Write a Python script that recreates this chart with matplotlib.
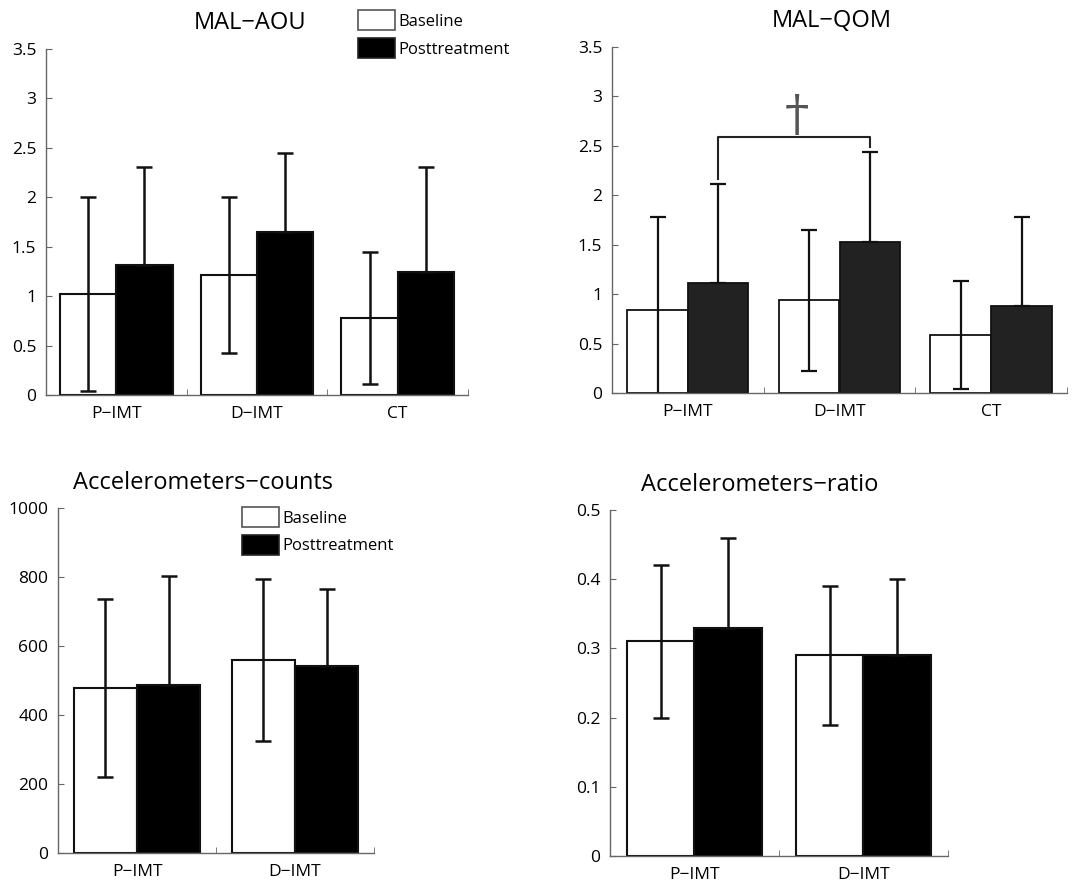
import numpy as np
import matplotlib
matplotlib.use("Agg")
import matplotlib.pyplot as plt
from matplotlib.patches import Patch

plt.rcParams['font.family'] = ['Open Sans', 'DejaVu Sans']

cats3 = ['P\u2212IMT', 'D\u2212IMT', 'CT']
cats2 = ['P\u2212IMT', 'D\u2212IMT']

# MAL-AOU
aou_base = [1.02, 1.21, 0.78]
aou_base_err = [0.98, 0.79, 0.67]
aou_post = [1.32, 1.645, 1.24]
aou_post_err = [0.99, 0.805, 1.07]

# MAL-QOM
qom_base = [0.835, 0.936, 0.589]
qom_base_err = [0.945, 0.71, 0.545]
qom_post = [1.117, 1.528, 0.882]
qom_post_err = [0.993, 0.909, 0.898]
bracket_y = 2.59
bracket_legs = [2.16, 2.49]

# Accelerometers
counts_base = [477, 559]
counts_base_err = [258, 234]
counts_post = [487, 543]
counts_post_err = [316, 222]

ratio_base = [0.31, 0.29]
ratio_base_err = [0.11, 0.10]
ratio_post = [0.33, 0.29]
ratio_post_err = [0.13, 0.11]

W, H = 1072, 881
fig = plt.figure(figsize=(W / 100, H / 100), dpi=100)


def px_axes(l, t, r, b):
    return fig.add_axes([l / W, 1 - b / H, (r - l) / W, (b - t) / H])


def draw(ax, cats, base, base_err, post, post_err, ymax, yticks, dark, lw=1.5):
    x = np.arange(1, len(cats) + 1)
    ek = dict(ecolor='#111111', elinewidth=lw + 0.3, capsize=6, capthick=lw + 0.3)
    ax.bar(x - 0.2, base, 0.4, color='white', edgecolor='#111111', linewidth=lw,
           yerr=base_err, error_kw=ek, zorder=2)
    # lower half of the posttreatment error bar is hidden inside the dark bar
    ax.bar(x + 0.2, post, 0.4, color=dark, edgecolor='#111111', linewidth=lw,
           yerr=[np.zeros(len(post)), post_err], error_kw=ek, zorder=2)
    ax.set_xlim(0.5, len(cats) + 0.5)
    ax.set_ylim(0, ymax)
    ax.set_yticks(yticks)
    ax.set_yticklabels([('%g' % v) for v in yticks])
    ax.set_xticks(x)
    ax.set_xticklabels(cats)
    ax.set_xticks(x + 0.5, minor=True)
    ax.tick_params(axis='x', which='major', length=0, pad=8, labelsize=12.5)
    ax.tick_params(axis='x', which='minor', direction='in', length=4, color='#666666')
    ax.tick_params(axis='y', direction='in', length=4, color='#666666', pad=7, labelsize=12.5)
    for s in ['top', 'right']:
        ax.spines[s].set_visible(False)
    for s in ['left', 'bottom']:
        ax.spines[s].set_color('#666666')
        ax.spines[s].set_linewidth(1.0)
        ax.spines[s].set_zorder(3)


def legend(x, y):
    handles = [Patch(facecolor='white', edgecolor='#555555', linewidth=1.2, label='Baseline'),
               Patch(facecolor='black', edgecolor='#222222', linewidth=1.2, label='Posttreatment')]
    fig.legend(handles=handles, loc='upper left', bbox_to_anchor=(x / W, 1 - y / H),
               frameon=False, fontsize=12, handlelength=2.2, handleheight=1.5,
               handletextpad=0.25, labelspacing=0.45, borderpad=0, borderaxespad=0)


ax1 = px_axes(46, 49, 468, 395)
draw(ax1, cats3, aou_base, aou_base_err, aou_post, aou_post_err, 3.5,
     [0, 0.5, 1, 1.5, 2, 2.5, 3, 3.5], 'black')
fig.text(250 / W, 1 - 23 / H, 'MAL\u2212AOU', ha='center', va='center', fontsize=17)
legend(358, 10)

ax2 = px_axes(612, 47, 1067, 393)
draw(ax2, cats3, qom_base, qom_base_err, qom_post, qom_post_err, 3.5,
     [0, 0.5, 1, 1.5, 2, 2.5, 3, 3.5], '#222222', lw=1.3)
fig.text(832 / W, 1 - 21 / H, 'MAL\u2212QOM', ha='center', va='center', fontsize=17)
bx = [1.2, 2.2]
ax2.plot([bx[0], bx[0], bx[1], bx[1]],
         [bracket_legs[0], bracket_y, bracket_y, bracket_legs[1]],
         color='#222222', lw=1.5, clip_on=False)
ax2.text(np.mean(bx) + 0.02, bracket_y - 0.03, '\u2020', ha='center', va='bottom', fontsize=35,
         color='#555555', family='DejaVu Serif')

ax3 = px_axes(58, 508, 374, 853)
draw(ax3, cats2, counts_base, counts_base_err, counts_post, counts_post_err, 1000,
     [0, 200, 400, 600, 800, 1000], 'black')
fig.text(73 / W, 1 - 483 / H, 'Accelerometers\u2212counts', ha='left', va='center', fontsize=17)
legend(242, 507)

ax4 = px_axes(610, 510, 948, 856)
draw(ax4, cats2, ratio_base, ratio_base_err, ratio_post, ratio_post_err, 0.5,
     [0, 0.1, 0.2, 0.3, 0.4, 0.5], 'black')
fig.text(641 / W, 1 - 485 / H, 'Accelerometers\u2212ratio', ha='left', va='center', fontsize=17)

fig.savefig('out.png', dpi=100)
